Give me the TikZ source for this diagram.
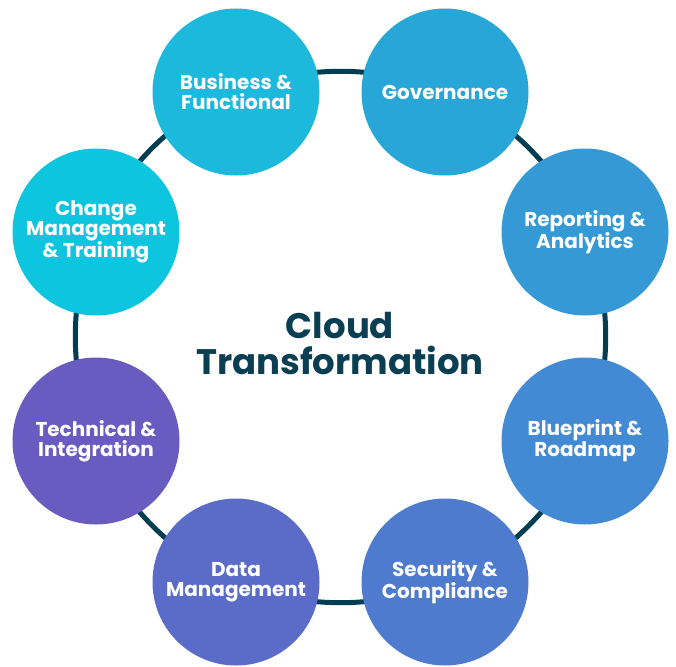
\documentclass[tikz,border=0pt]{standalone}
\usepackage{fontspec}
\setmainfont{Poppins}
\usetikzlibrary{backgrounds}
\definecolor{ringcol}{HTML}{023E52}
\definecolor{titlecol}{HTML}{0A3F53}
\definecolor{cBus}{HTML}{1DB9DC}
\definecolor{cGov}{HTML}{27A6D7}
\definecolor{cRep}{HTML}{3499D5}
\definecolor{cBlu}{HTML}{428AD3}
\definecolor{cSec}{HTML}{4F7BCF}
\definecolor{cDat}{HTML}{5B6BC8}
\definecolor{cTec}{HTML}{6A5BC0}
\definecolor{cCha}{HTML}{0EC5DF}
\tikzset{
  topic/.style={circle, minimum size=167pt, inner sep=0pt, align=center,
    text=white, font=\fontsize{20}{20}\selectfont\bfseries},
  ringline/.style={draw=ringcol, line width=5pt, bend left=22.5, looseness=0.885},
  titletext/.style={align=center, text=titlecol, font=\fontsize{35.5}{36}\selectfont\bfseries}
}
\begin{document}
\begin{tikzpicture}[x=1pt,y=-1pt]
\useasboundingbox (0,0) rectangle (676,666);
\node[topic, fill=cBus] (bus) at (236,92) {Business \&\\Functional};
\node[topic, fill=cGov] (gov) at (445,92) {Governance};
\node[topic, fill=cRep] (rep) at (585,232) {Reporting \&\\Analytics};
\node[topic, fill=cBlu] (blu) at (585,441) {Blueprint \&\\Roadmap};
\node[topic, fill=cSec] (sec) at (445,582) {Security \&\\Compliance};
\node[topic, fill=cDat] (dat) at (236,582) {Data\\Management};
\node[topic, fill=cTec] (tec) at (96,441) {Technical \&\\Integration};
\node[topic, fill=cCha] (cha) at (96,232) {Change\\Management\\\& Training};
\node[titletext] (title) at (340,344) {Cloud\\Transformation};
\begin{scope}[on background layer]
\draw[ringline] (bus.center) to (gov.center);
\draw[ringline] (gov.center) to (rep.center);
\draw[ringline] (rep.center) to (blu.center);
\draw[ringline] (blu.center) to (sec.center);
\draw[ringline] (sec.center) to (dat.center);
\draw[ringline] (dat.center) to (tec.center);
\draw[ringline] (tec.center) to (cha.center);
\draw[ringline] (cha.center) to (bus.center);
\end{scope}
\end{tikzpicture}
\end{document}
